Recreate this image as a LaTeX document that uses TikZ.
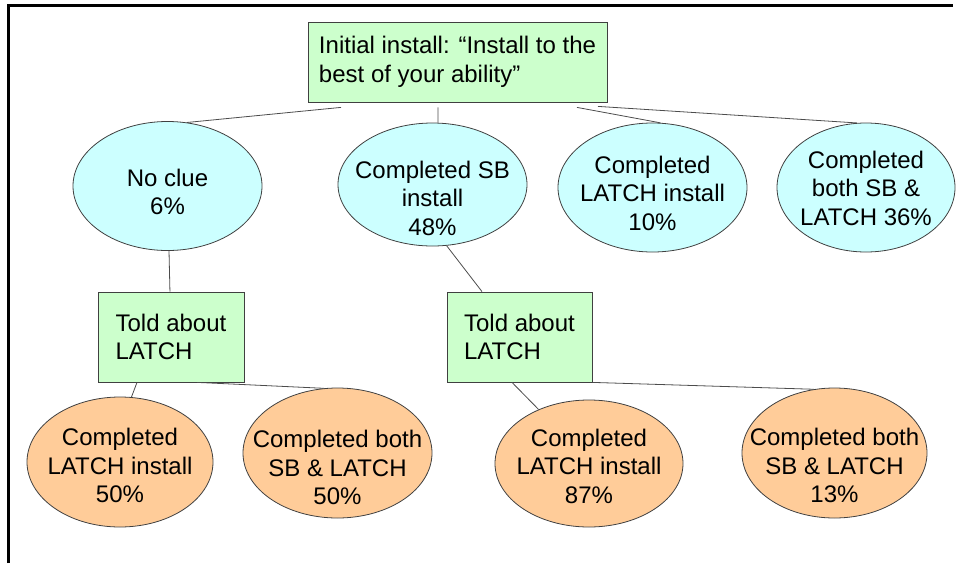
\documentclass[tikz,border=0pt]{standalone}
\usepackage{fontspec}
\setmainfont{Liberation Sans}
\usetikzlibrary{shapes.geometric}
\definecolor{boxgreen}{HTML}{CCFFCC}
\definecolor{ovalcyan}{HTML}{CCFFFF}
\definecolor{ovalorange}{HTML}{FFCC99}
% text in an oval, lowered by #1, without widening the oval
\newcommand{\bubtxt}[2][-9pt]{\raisebox{#1}[0pt][0pt]{\makebox[0pt]{\begin{tabular}{@{}c@{}}#2\end{tabular}}}}
\tikzset{stepbox/.style={draw=black!75, line width=0.8pt, fill=boxgreen,
           inner sep=0pt, align=left},
         oval/.style={ellipse, draw=black!75, line width=0.8pt, inner sep=0pt},
         first/.style={oval, fill=ovalcyan},
         second/.style={oval, fill=ovalorange},
         link/.style={draw=black!70, line width=0.8pt}}

\begin{document}
\begin{tikzpicture}[x=1pt, y=-1pt, font=\fontsize{24}{28.5}\selectfont]
  \useasboundingbox (0,0) rectangle (959,563);
  \draw[line width=3pt] (8.5,563) -- (8.5,5) -- (953,5);

  \node[stepbox, minimum width=299pt, minimum height=80pt] (init) at (457.5,62)
    {Initial install: “Install to the\\best of your ability”};

  \node[first, minimum width=189pt, minimum height=129pt] (noclue) at (167.5,186)
    {\bubtxt[-15pt]{No clue\\6\%}};
  \node[first, minimum width=189pt, minimum height=123pt] (sbonly) at (432.5,184.5)
    {\bubtxt[-23pt]{Completed SB\\install\\48\%}};
  \node[first, minimum width=189pt, minimum height=129pt] (latchonly) at (652.5,187.5)
    {\bubtxt[-15pt]{Completed\\LATCH install\\10\%}};
  \node[first, minimum width=178pt, minimum height=129pt] (bothtop) at (866,187.5)
    {\bubtxt[-10pt]{Completed\\both SB \&\\LATCH 36\%}};

  \node[stepbox, minimum width=146pt, minimum height=90pt] (toldA) at (171,337)
    {Told about\\LATCH};
  \node[stepbox, minimum width=145pt, minimum height=90pt] (toldB) at (519.5,337)
    {Told about\\LATCH};

  \node[second, minimum width=186pt, minimum height=130pt] (latchA) at (120,462)
    {\bubtxt[-13pt]{Completed\\LATCH install\\50\%}};
  \node[second, minimum width=189pt, minimum height=130pt] (bothA) at (337.5,453)
    {\bubtxt[-24pt]{Completed both\\SB \& LATCH\\50\%}};
  \node[second, minimum width=188pt, minimum height=127pt] (latchB) at (589,463.5)
    {\bubtxt[-12pt]{Completed\\LATCH install\\87\%}};
  \node[second, minimum width=185pt, minimum height=130pt] (bothB) at (834.5,453)
    {\bubtxt[-22pt]{Completed both\\SB \& LATCH\\13\%}};

  % first answers
  \draw[link] ([shift={(-116.5,5)}]init.south) -- (noclue.73);
  \draw[link] ([shift={(-19.5,5)}]init.south) -- (sbonly.85);
  \draw[link] ([shift={(119.5,5)}]init.south) -- (latchonly.83);
  \draw[link] ([shift={(140.5,4)}]init.south) -- (bothtop.98);
  % told about LATCH
  \draw[link] (noclue) -- (toldA);
  \draw[link] (sbonly.283) -- ([xshift=-37.5pt]toldB.north);
  \draw[link] ([xshift=-34pt]toldA.south) -- (latchA.80);
  \draw[link] ([xshift=26pt]toldA.south) -- (bothA.102);
  \draw[link] ([xshift=-7.5pt]toldB.south) -- (latchB.133);
  \draw[link] (toldB.south east) -- (bothB.108);
\end{tikzpicture}
\end{document}
